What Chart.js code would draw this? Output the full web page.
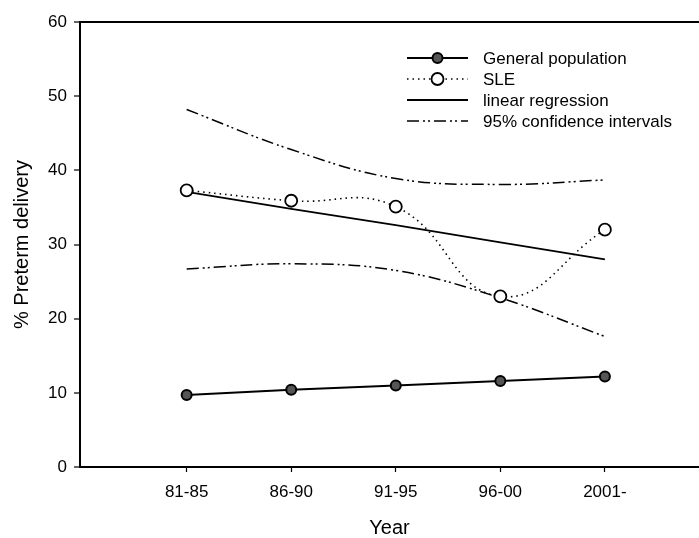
<!DOCTYPE html>
<html>
<head>
<meta charset="utf-8">
<script src="https://cdn.jsdelivr.net/npm/chart.js@4"></script>
<style>
  html, body { margin: 0; padding: 0; background: #fff; }
  #wrap { width: 699px; height: 538px; }
</style>
</head>
<body>
<div id="wrap"><canvas id="chart" width="699" height="538"></canvas></div>
<script>
/* =========================
   Data
========================= */
const periods = ["81-85", "86-90", "91-95", "96-00", "2001-"];
const generalPopulation = [9.7, 10.4, 11.0, 11.6, 12.2];
const sle = [37.3, 35.9, 35.1, 23.0, 32.0];
const linearRegression = [37.1, 34.8, 32.6, 30.3, 28.0];
const ciUpper = [48.2, 42.8, 38.9, 38.1, 38.7];
const ciLower = [26.7, 27.4, 26.5, 22.8, 17.6];
const yTicks = [0, 10, 20, 30, 40, 50, 60];

const FONT = "'Liberation Sans', Arial, sans-serif";
const CI_DASH = [12, 4, 2, 3, 2, 4];

/* =========================
   Helpers
========================= */
function toPoints(values) {
  return values.map((v, i) => ({ x: i + 1, y: v }));
}

/* legend drawn as line samples with the marker in the middle */
const sampleLegend = {
  id: "sampleLegend",
  afterDraw(chart) {
    const ctx = chart.ctx;
    const x0 = 407, x1 = 468, textX = 483;
    let y = 58;
    ctx.save();
    chart.data.datasets.forEach(ds => {
      if (ds.legendHidden) return;
      ctx.strokeStyle = "#000";
      ctx.lineWidth = ds.borderWidth;
      ctx.setLineDash(ds.borderDash || []);
      ctx.beginPath();
      ctx.moveTo(x0, y);
      ctx.lineTo(x1, y);
      ctx.stroke();
      ctx.setLineDash([]);
      if (ds.pointRadius > 0) {
        ctx.beginPath();
        ctx.arc((x0 + x1) / 2, y, ds.pointRadius, 0, Math.PI * 2);
        ctx.fillStyle = ds.pointBackgroundColor;
        ctx.fill();
        ctx.lineWidth = ds.pointBorderWidth;
        ctx.stroke();
      }
      ctx.fillStyle = "#000";
      ctx.font = "17px " + FONT;
      ctx.textBaseline = "middle";
      ctx.textAlign = "left";
      ctx.fillText(ds.label, textX, y + 1);
      y += 21;
    });
    ctx.restore();
  }
};

/* =========================
   Chart
========================= */
const lineBase = {
  borderColor: "#000",
  fill: false,
  pointBorderColor: "#000",
  pointHoverRadius: 0
};

new Chart(document.getElementById("chart"), {
  type: "line",
  data: {
    datasets: [
      {
        ...lineBase,
        label: "General population",
        data: toPoints(generalPopulation),
        borderWidth: 2,
        pointRadius: 5,
        pointBorderWidth: 2,
        pointBackgroundColor: "#555",
        tension: 0
      },
      {
        ...lineBase,
        label: "SLE",
        data: toPoints(sle),
        borderWidth: 1.6,
        borderDash: [1.5, 4],
        pointRadius: 6,
        pointBorderWidth: 1.8,
        pointBackgroundColor: "#fff",
        tension: 0.45
      },
      {
        ...lineBase,
        label: "linear regression",
        data: toPoints(linearRegression),
        borderWidth: 1.8,
        pointRadius: 0,
        tension: 0
      },
      {
        ...lineBase,
        label: "95% confidence intervals",
        data: toPoints(ciUpper),
        borderWidth: 1.5,
        borderDash: CI_DASH,
        pointRadius: 0,
        tension: 0.4
      },
      {
        ...lineBase,
        label: "95% confidence intervals",
        legendHidden: true,
        data: toPoints(ciLower),
        borderWidth: 1.5,
        borderDash: CI_DASH,
        pointRadius: 0,
        tension: 0.4
      }
    ]
  },
  options: {
    responsive: false,
    animation: false,
    layout: { autoPadding: false, padding: { top: 22, right: 0, bottom: 0, left: 0 } },
    plugins: {
      legend: { display: false },
      tooltip: { enabled: false }
    },
    scales: {
      x: {
        type: "linear",
        min: -0.02,
        max: 5.9,
        afterBuildTicks: axis => {
          axis.ticks = periods.map((p, i) => ({ value: i + 1 }));
        },
        afterFit: axis => {
          axis.paddingLeft = 0;
          axis.paddingRight = 0;
          axis.height = 71;
        },
        ticks: {
          callback: v => periods[v - 1],
          color: "#000",
          font: { family: FONT, size: 17 },
          padding: 10,
          maxRotation: 0
        },
        grid: {
          drawOnChartArea: false,
          tickLength: 5,
          tickColor: "#000",
          tickWidth: 1.2
        },
        border: { color: "#000", width: 2 },
        title: {
          display: true,
          text: "Year",
          color: "#000",
          font: { family: FONT, size: 20, lineHeight: 1 },
          padding: { top: 13, bottom: 0 }
        }
      },
      y: {
        min: 0,
        max: 60,
        afterBuildTicks: axis => {
          axis.ticks = yTicks.map(v => ({ value: v }));
        },
        afterFit: axis => {
          axis.width = 80;
          axis.paddingBottom = 0;
        },
        ticks: {
          color: "#000",
          font: { family: FONT, size: 17 },
          padding: 7
        },
        grid: {
          color: c => (c.tick && c.tick.value === 60 ? "#000" : "rgba(0,0,0,0)"),
          lineWidth: 2,
          tickLength: 6,
          tickColor: "#000",
          tickWidth: 1.2
        },
        border: { color: "#000", width: 2 },
        title: {
          display: true,
          text: "% Preterm delivery",
          color: "#000",
          font: { family: FONT, size: 20 },
          padding: { top: 10, bottom: 0 }
        }
      }
    }
  },
  plugins: [sampleLegend]
});
</script>
</body>
</html>
